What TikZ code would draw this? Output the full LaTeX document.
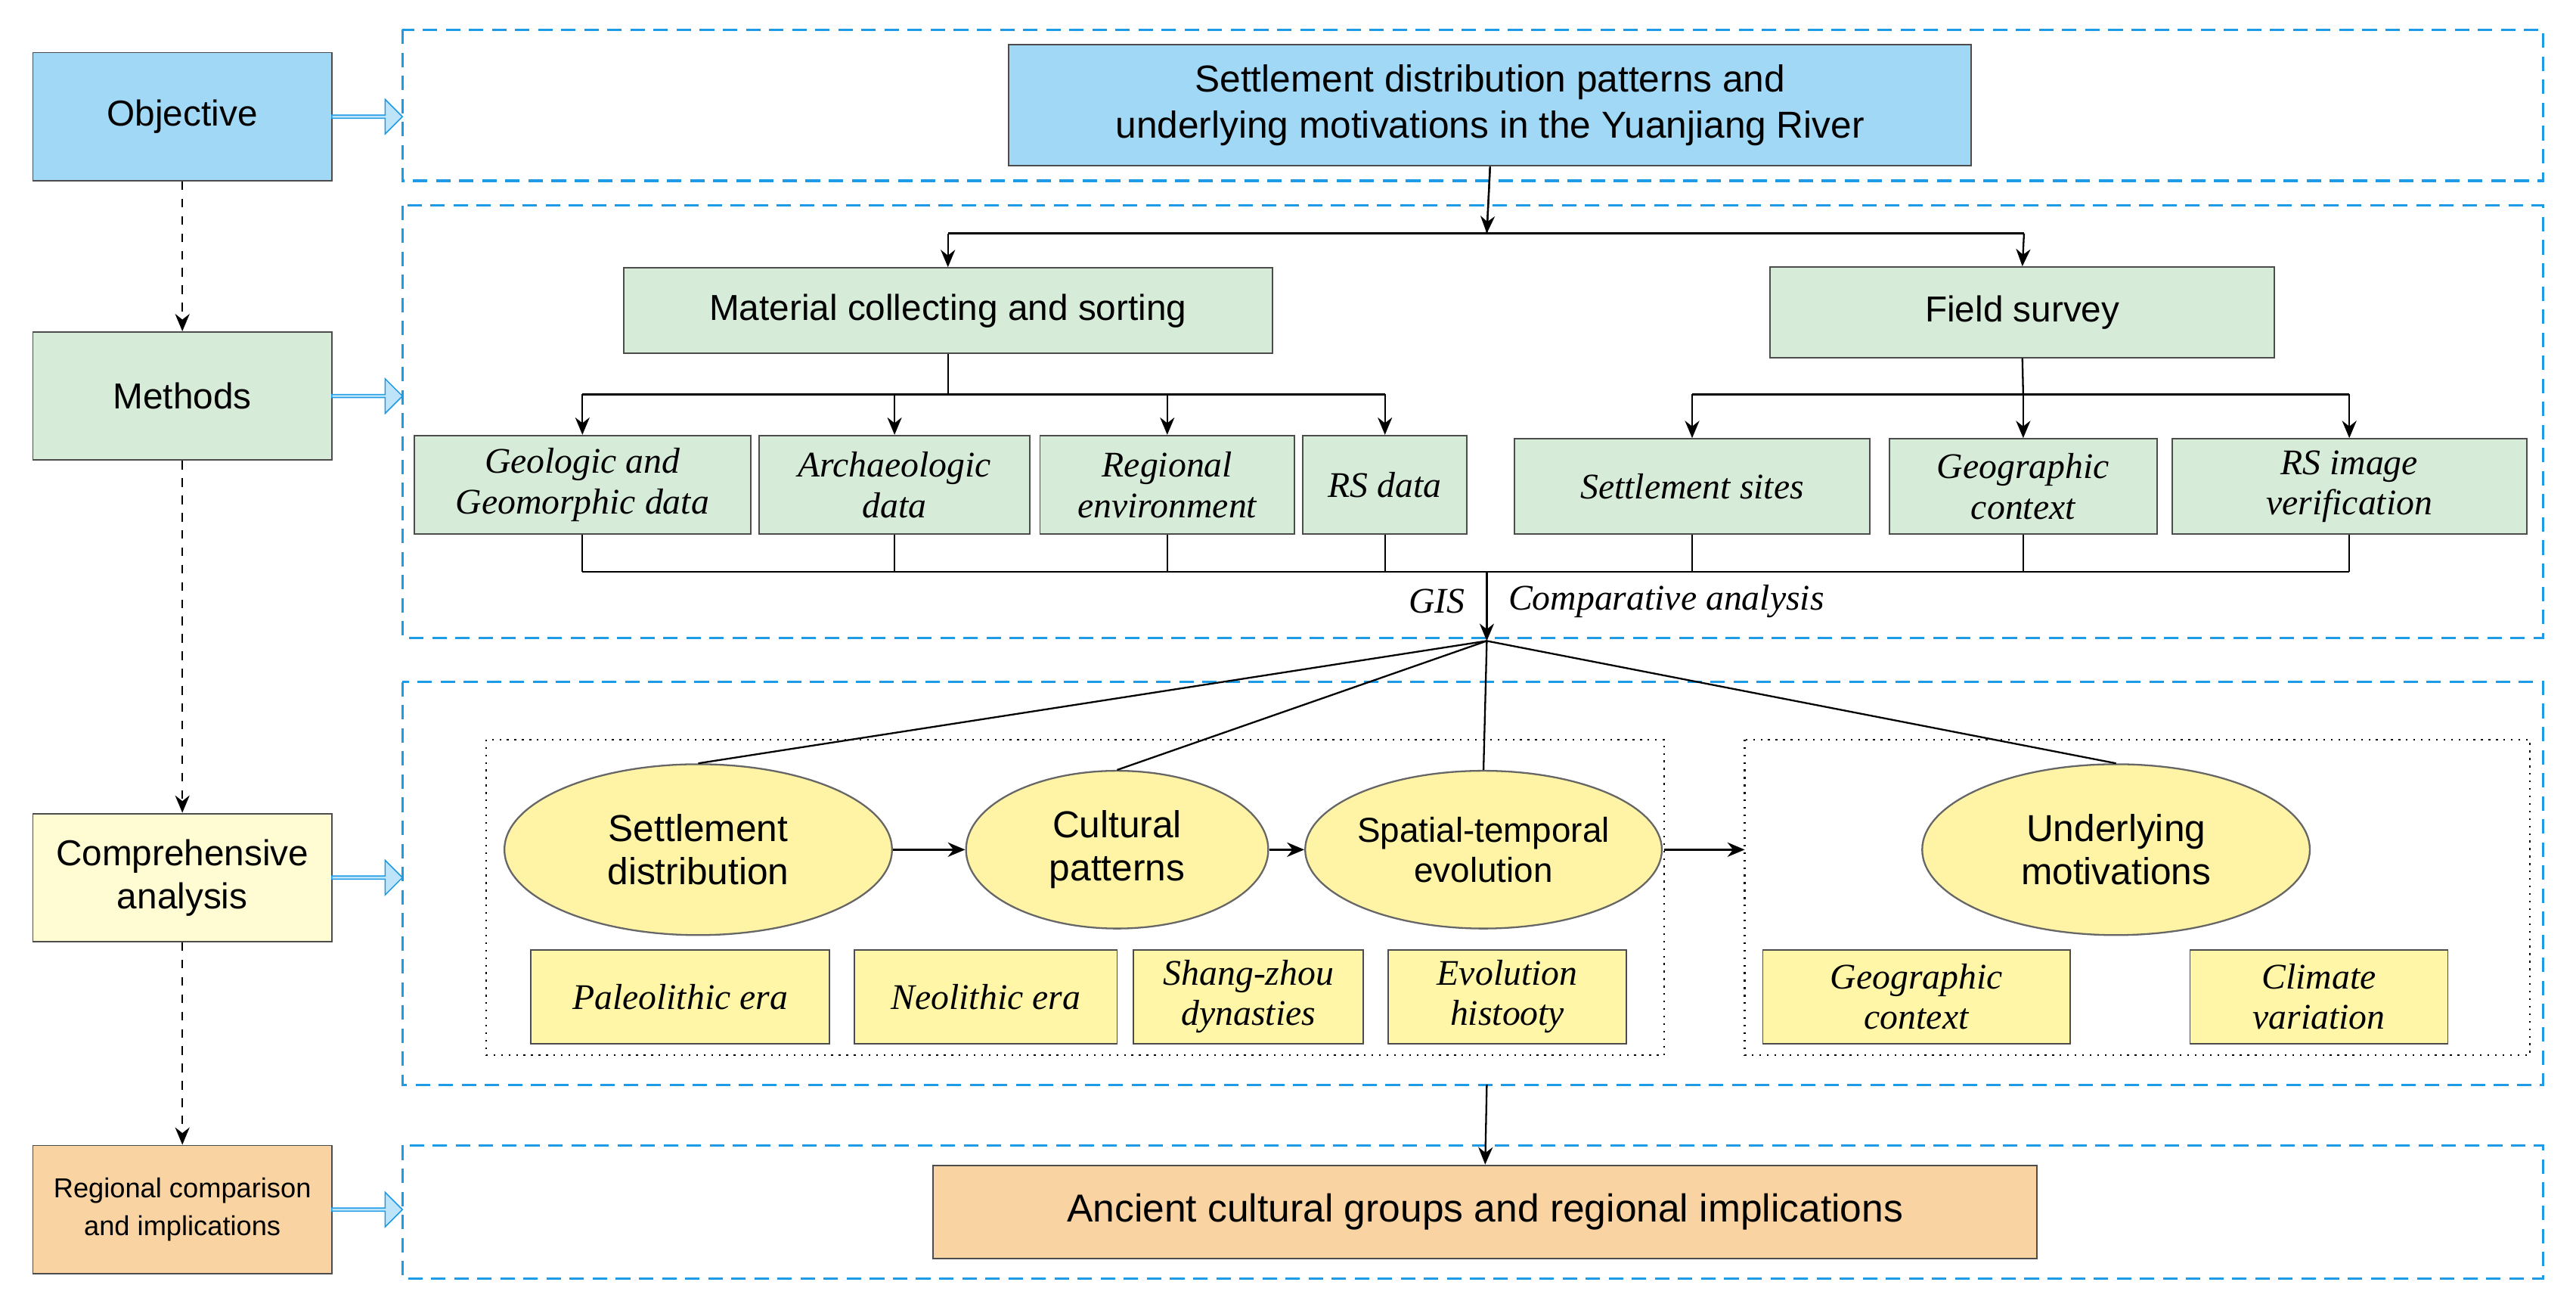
\documentclass[tikz,border=0pt]{standalone}
\usepackage{fontspec}
\setmainfont{Liberation Sans}
\newfontfamily\tms{Liberation Serif}
\usetikzlibrary{arrows.meta,shapes.geometric,shapes.arrows}
\definecolor{cblue}{HTML}{A0D8F5}
\definecolor{cgreen}{HTML}{D6EBD8}
\definecolor{cyel}{HTML}{FFFBD2}
\definecolor{corg}{HTML}{F9D4A2}
\definecolor{ell}{HTML}{FFF4A6}
\definecolor{ybox}{HTML}{FFF6A8}
\definecolor{frame}{HTML}{1E9BE6}
\begin{document}
\begin{tikzpicture}[x=0.02cm,y=-0.02cm,
 box/.style={draw=black!70,line width=0.5pt,font=\fontsize{12.5}{15}\selectfont,align=center,inner sep=0pt},
 it/.style={draw=black!70,line width=0.5pt,font=\tms\itshape\fontsize{12.5}{14}\selectfont,align=center,inner sep=0pt},
 el/.style={ellipse,draw=black!60,line width=0.6pt,fill=ell,font=\fontsize{13}{15}\selectfont,align=center,inner sep=0pt},
 fr/.style={draw=frame,dashed,line width=0.8pt,dash pattern=on 5pt off 3pt},
 dot/.style={draw=black,dotted,line width=0.6pt},
 ln/.style={line width=0.6pt},
 ar/.style={ln,-{Stealth[length=6pt,width=5pt]}},
 dar/.style={ln,dashed,-{Stealth[length=6pt,width=5pt]}},
 barr/.style={single arrow,draw=frame,fill=cblue!70,minimum height=0.86cm,minimum width=0.42cm,single arrow head extend=2pt,inner sep=0pt}]
\useasboundingbox (0,0) rectangle (1568,797);
% frames
\draw[fr] (245,18) rectangle (1548,110);
\draw[fr] (245,125) rectangle (1548,388);
\draw[fr] (245,415) rectangle (1548,660);
\draw[fr] (245,697) rectangle (1548,778);
% left column
\node[box,fill=cblue,minimum width=3.64cm,minimum height=1.56cm] (obj) at (111,71) {Objective};
\node[box,fill=cgreen,minimum width=3.64cm,minimum height=1.56cm] (met) at (111,241) {Methods};
\node[box,fill=cyel,minimum width=3.64cm,minimum height=1.56cm] (com) at (111,534) {Comprehensive\\analysis};
\node[box,fill=corg,minimum width=3.64cm,minimum height=1.56cm,font=\fontsize{9.5}{13}\selectfont] (reg) at (111,736) {Regional comparison\\and implications};
\draw[dar] (obj) -- (met);
\draw[dar] (met) -- (com);
\draw[dar] (com) -- (reg);
\foreach \y/\n in {71/a,241/b,534/c,736/d} \node[barr] (ba\n) at (223,\y) {};
% top
\node[box,fill=cblue,minimum width=11.72cm,minimum height=1.48cm,font=\fontsize{13}{16}\selectfont] (top) at (907,64) {Settlement distribution patterns and\\underlying motivations in the Yuanjiang River};
\node[box,fill=cgreen,minimum width=7.9cm,minimum height=1.04cm] (mat) at (577,189) {Material collecting and sorting};
\node[box,fill=cgreen,minimum width=6.14cm,minimum height=1.1cm] (fs) at (1231,190) {Field survey};
\coordinate (t1) at (905,142);
\draw[ln] (top.south) -- (t1);
\draw[ar] (top.south) -- (905,142);
\draw[ln] (577,142) -- (1232,142);
\draw[ar] (577,142) -- (mat.north);
\draw[ar] (1232,142) -- (fs.north);
% children
\node[it,fill=cgreen,minimum width=4.1cm,minimum height=1.2cm] (g1) at (354.5,295) {Geologic and\\Geomorphic data};
\node[it,fill=cgreen,minimum width=3.3cm,minimum height=1.2cm] (g2) at (544.5,295) {Archaeologic\\data};
\node[it,fill=cgreen,minimum width=3.1cm,minimum height=1.2cm] (g3) at (710.5,295) {Regional\\environment};
\node[it,fill=cgreen,minimum width=2.0cm,minimum height=1.2cm] (g4) at (843,295) {RS data};
\node[it,fill=cgreen,minimum width=4.32cm,minimum height=1.16cm] (f1) at (1030,296) {Settlement sites};
\node[it,fill=cgreen,minimum width=3.26cm,minimum height=1.16cm] (f2) at (1231.5,296) {Geographic\\context};
\node[it,fill=cgreen,minimum width=4.32cm,minimum height=1.16cm] (f3) at (1430,296) {RS image\\verification};
\draw[ln] (mat.south) -- (577,240);
\draw[ln] (354.5,240) -- (843,240);
\foreach \n/\x in {g1/354.5,g2/544.5,g3/710.5,g4/843} \draw[ar] (\x,240) -- (\n.north);
\draw[ln] (fs.south) -- (1231.5,240);
\draw[ln] (1030,240) -- (1430,240);
\foreach \n/\x in {f1/1030,f2/1231.5,f3/1430} \draw[ar] (\x,240) -- (\n.north);
\foreach \n/\x in {g1/354.5,g2/544.5,g3/710.5,g4/843,f1/1030,f2/1231.5,f3/1430} \draw[ln] (\n.south) -- (\x,348);
\draw[ln] (354.5,348) -- (1430,348);
\coordinate (hub) at (905,390);
\draw[ar] (905,348) -- (hub);
\node[font=\tms\itshape\fontsize{12.5}{14}\selectfont,anchor=east] at (898,366) {GIS};
\node[font=\tms\itshape\fontsize{12.5}{14}\selectfont,anchor=west] at (912,366) {Comparative analysis};
% analysis
\draw[dot] (296,450) rectangle (1013,642);
\draw[dot] (1062,450) rectangle (1540,642);
\node[el,minimum width=4.72cm,minimum height=2.08cm] (e1) at (425,517) {Settlement\\distribution};
\node[el,minimum width=3.68cm,minimum height=1.92cm] (e2) at (680,517) {Cultural\\patterns};
\node[el,minimum width=4.0cm,minimum height=1.92cm,font=\fontsize{12}{14}\selectfont] (e3) at (903,517) {Spatial-temporal\\evolution};
\node[el,minimum width=4.72cm,minimum height=2.08cm] (e4) at (1288,517) {Underlying\\motivations};
\foreach \n in {e1,e2,e3,e4} \draw[ln] (hub) -- (\n.north);
\draw[ar] (e1) -- (e2);
\draw[ar] (e2) -- (e3);
\draw[ar] (1013,517) -- (1062,517);
\node[it,fill=ybox,minimum width=3.64cm,minimum height=1.14cm] (y1) at (414,606.5) {Paleolithic era};
\node[it,fill=ybox,minimum width=3.2cm,minimum height=1.14cm] (y2) at (600,606.5) {Neolithic era};
\node[it,fill=ybox,minimum width=2.8cm,minimum height=1.14cm] (y3) at (760,606.5) {Shang-zhou\\dynasties};
\node[it,fill=ybox,minimum width=2.9cm,minimum height=1.14cm] (y4) at (917.5,606.5) {Evolution\\histooty};
\node[it,fill=ybox,minimum width=3.74cm,minimum height=1.14cm] (y5) at (1166.5,606.5) {Geographic\\context};
\node[it,fill=ybox,minimum width=3.14cm,minimum height=1.14cm] (y6) at (1411.5,606.5) {Climate\\variation};
% bottom
\node[box,fill=corg,minimum width=13.44cm,minimum height=1.14cm,font=\fontsize{13.5}{16}\selectfont] (bot) at (904,737.5) {Ancient cultural groups and regional implications};
\coordinate (b0) at (905,660);
\draw[ar] (b0) -- (bot.north);
\end{tikzpicture}
\end{document}
